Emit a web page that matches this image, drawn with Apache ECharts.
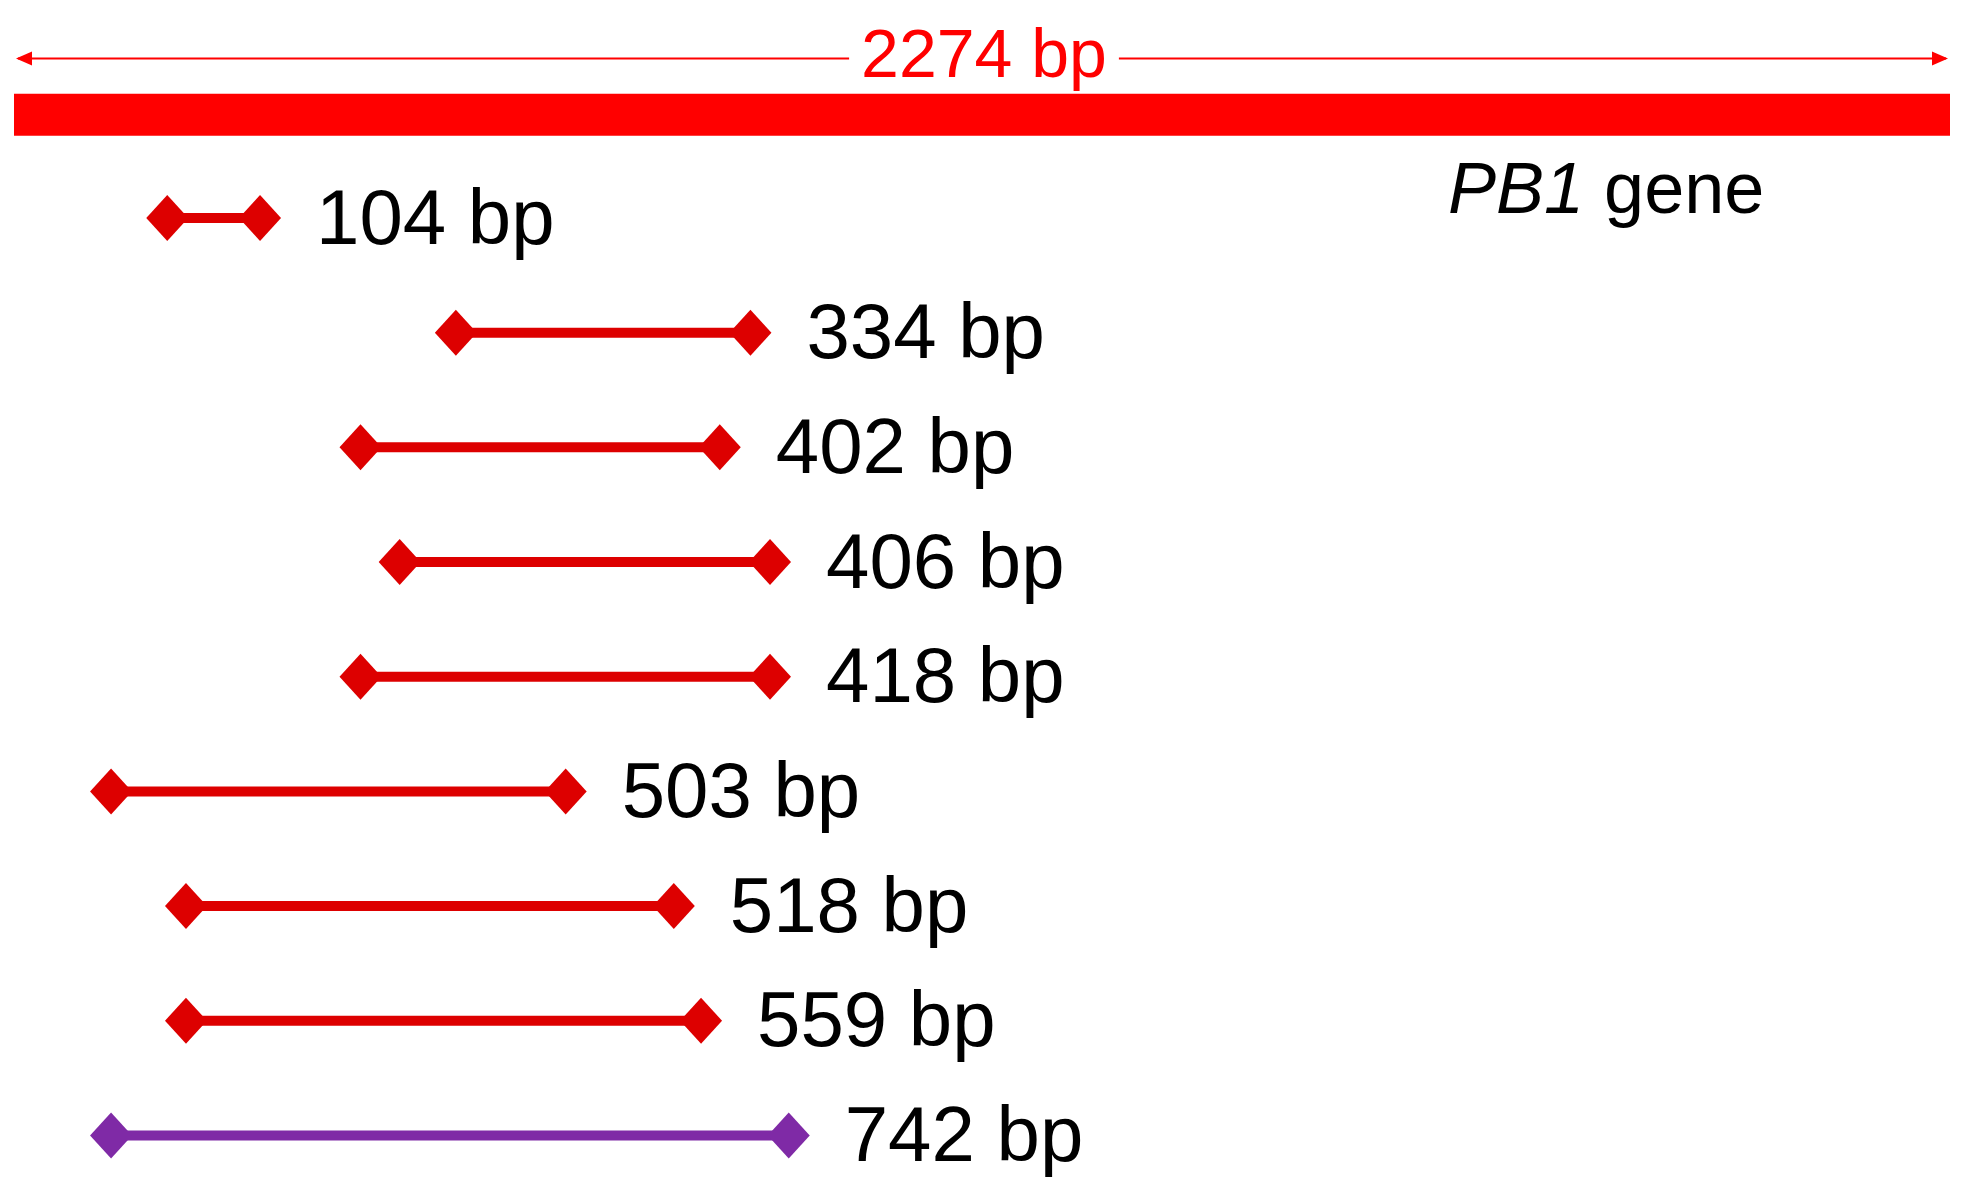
<!DOCTYPE html>
<html><head><meta charset="utf-8">
<script src="https://cdn.jsdelivr.net/npm/echarts@6/dist/echarts.min.js"></script>
<style>html,body{margin:0;padding:0;background:#fff}#c{width:1970px;height:1192px}</style>
</head><body><div id="c"></div>
<script>
const geneLength = 2274;
const geneName = 'PB1';
const productLabels = ['104 bp','334 bp','402 bp','406 bp','418 bp','503 bp','518 bp','559 bp','742 bp'];
const productStart = [180, 519, 407, 453, 407, 114, 202, 202, 114];
const productEnd   = [289, 865, 829, 888, 888, 648, 775, 807, 910];
const productColor = ['#dd0000','#dd0000','#dd0000','#dd0000','#dd0000','#dd0000','#dd0000','#dd0000','#7f2aa6'];

const chart = echarts.init(document.getElementById('c'));
const font = '"Liberation Sans", Arial, sans-serif';

function diamond(x, y, w, h, color){
  return {type:'polygon', shape:{points:[[x-w/2,y],[x,y-h/2],[x+w/2,y],[x,y+h/2]]}, style:{fill:color}};
}

const productData = productLabels.map((l,i)=>[productStart[i], productEnd[i], i+1, l, productColor[i]]);

chart.setOption({
  animation:false,
  grid:{left:14, right:20, top:46, bottom:5},
  xAxis:{type:'value', min:0, max:geneLength, show:false},
  yAxis:{type:'value', min:-0.5, max:9.45, inverse:true, show:false},
  series:[
    {
      type:'custom',
      data:[[0, geneLength, 0.1]],
      renderItem:function(params, api){
        const a = api.coord([api.value(0), api.value(2)]);
        const b = api.coord([api.value(1), api.value(2)]);
        const ay = api.coord([0, -0.39])[1];
        const mid = (a[0]+b[0])/2;
        const red = '#ff0000';
        return {type:'group', children:[
          {type:'rect', shape:{x:a[0], y:a[1]-21, width:b[0]-a[0], height:42}, style:{fill:red}},
          {type:'line', shape:{x1:a[0]+4, y1:ay, x2:b[0]-4, y2:ay}, style:{stroke:red, lineWidth:2}},
          {type:'polygon', shape:{points:[[a[0]+2,ay],[a[0]+18,ay-7],[a[0]+18,ay+7]]}, style:{fill:red}},
          {type:'polygon', shape:{points:[[b[0]-2,ay],[b[0]-18,ay-7],[b[0]-18,ay+7]]}, style:{fill:red}},
          {type:'text', x:mid+2, y:ay, style:{text:geneLength+' bp', fill:red, font:'68px '+font, align:'center', verticalAlign:'middle', backgroundColor:'#fff', padding:[0,12]}},
          {type:'text', x:1448, y:a[1]+78, style:{rich:{i:{fontStyle:'italic', fontSize:72, fontFamily:font, color:red}, n:{fontSize:72, fontFamily:font, color:red}}, text:'{i|'+geneName+'}{n| gene}', verticalAlign:'middle'}}
        ]};
      }
    },
    {
      type:'custom',
      data:productData,
      renderItem:function(params, api){
        const d = productData[params.dataIndex];
        const a = api.coord([d[0], d[2]]);
        const b = api.coord([d[1], d[2]]);
        const c = d[4];
        return {type:'group', children:[
          {type:'line', shape:{x1:a[0], y1:a[1], x2:b[0], y2:b[1]}, style:{stroke:c, lineWidth:10}},
          diamond(a[0], a[1], 42, 46, c),
          diamond(b[0], b[1], 42, 46, c),
          {type:'text', x:b[0]+56, y:b[1]+4, style:{text:d[3], fill:'#000', font:'78px '+font, verticalAlign:'middle'}}
        ]};
      }
    }
  ]
});
</script></body></html>
